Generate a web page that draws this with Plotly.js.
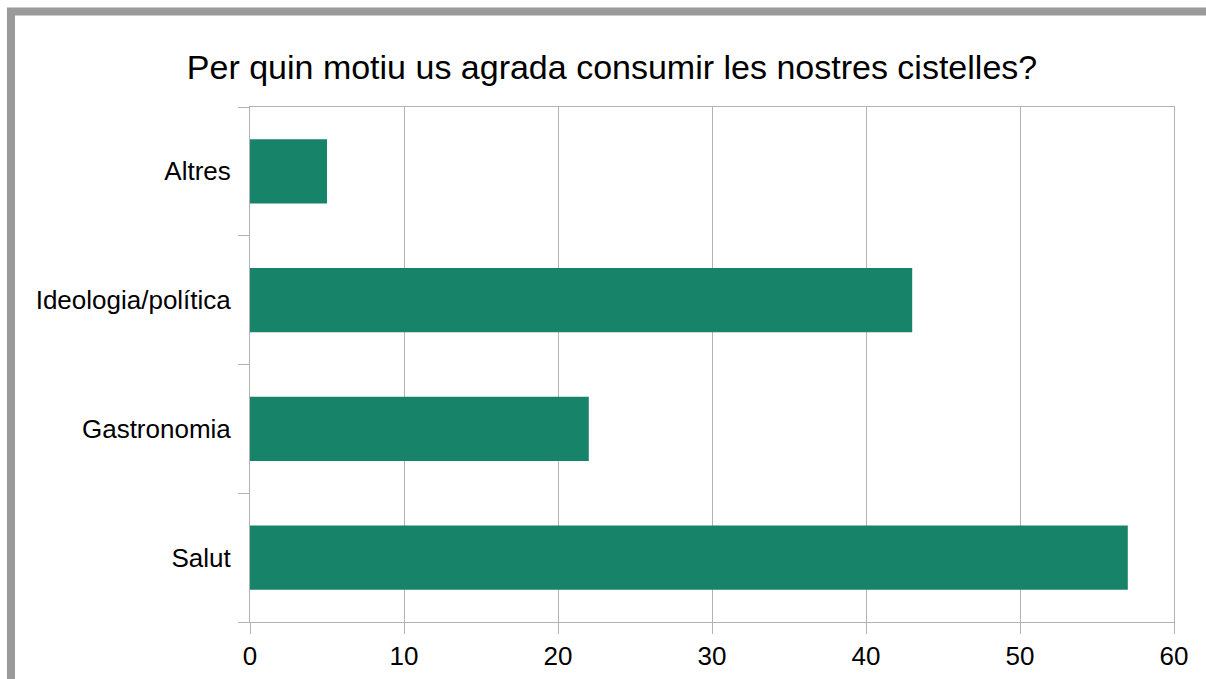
<!DOCTYPE html>
<html>
<head>
<meta charset="utf-8">
<script src="https://cdn.plot.ly/plotly-3.0.1.min.js"></script>
<style>
  html, body { margin: 0; padding: 0; background: #fff; }
  #chart { width: 1206px; height: 679px; }
</style>
</head>
<body>
<div id="chart"></div>
<script>
// Data
var categories = ["Salut", "Gastronomia", "Ideologia/política", "Altres"];
var values = [57, 22, 43, 5];

var data = [{
  type: "bar",
  orientation: "h",
  y: categories,
  x: values,
  width: 0.5,
  marker: { color: "#17846a" },
  hoverinfo: "x+y"
}];

// plot area in pixels: x 250..1174, y 107..622
var L = 250, R = 1174, T = 107, B = 622;
function px(x) { return (x - L) / (R - L); }
function py(y) { return (B - y) / (B - T); }

var layout = {
  width: 1206,
  height: 679,
  paper_bgcolor: "#ffffff",
  plot_bgcolor: "#ffffff",
  font: { family: "Liberation Sans, Arial, sans-serif", color: "#000000", size: 26 },
  margin: { l: L, r: 1206 - R, t: T, b: 679 - B, pad: 0 },
  title: {
    text: "Per quin motiu us agrada consumir les nostres cistelles?",
    font: { size: 34, color: "#000000" },
    xref: "container",
    x: 612 / 1206,
    xanchor: "center",
    y: 1 - 67 / 679,
    yanchor: "middle"
  },
  showlegend: false,
  xaxis: {
    range: [0, 60],
    dtick: 10,
    tick0: 0,
    showgrid: true,
    gridcolor: "#b3b3b3",
    gridwidth: 1,
    zeroline: false,
    showline: true,
    mirror: true,
    linecolor: "#b3b3b3",
    linewidth: 1,
    ticks: "outside",
    ticklen: 11,
    tickcolor: "#b3b3b3",
    tickfont: { size: 26 },
    fixedrange: true
  },
  yaxis: {
    type: "category",
    showgrid: false,
    zeroline: false,
    showline: true,
    mirror: true,
    linecolor: "#b3b3b3",
    linewidth: 1,
    ticks: "outside",
    tickson: "boundaries",
    ticklen: 11,
    tickcolor: "#b3b3b3",
    tickfont: { size: 26 },
    ticklabelstandoff: 13,
    fixedrange: true
  },
  shapes: [{
    type: "rect",
    xref: "paper", yref: "paper",
    x0: px(11), x1: px(1400),
    y0: py(900), y1: py(11.5),
    line: { color: "#9a9a9a", width: 8 },
    fillcolor: "rgba(0,0,0,0)",
    layer: "above"
  }]
};

Plotly.newPlot("chart", data, layout, { displayModeBar: false, staticPlot: true });
</script>
</body>
</html>
